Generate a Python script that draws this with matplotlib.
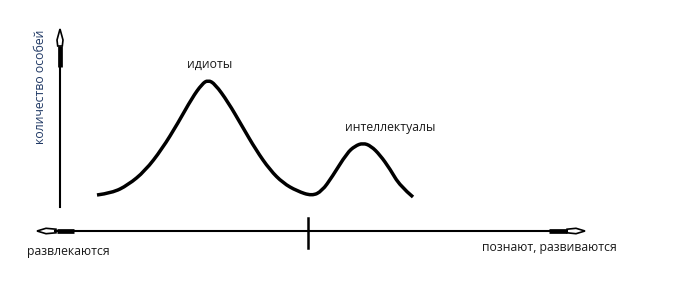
import matplotlib
matplotlib.use("Agg")
import matplotlib.pyplot as plt
from matplotlib.patches import Polygon, PathPatch
from matplotlib.path import Path

plt.rcParams['font.family'] = ['Open Sans', 'DejaVu Sans']

# Curve (x: position along axis, y: pixel height from top)
curve_x = [97, 112, 128, 145, 162, 178, 192, 202, 208, 215, 228, 242, 256,
           270, 283, 297, 312, 322, 332, 347, 355, 363, 371, 380, 390, 400, 413]
curve_y = [195, 193, 185, 171, 149, 123, 98, 84, 80, 84, 102, 126, 150,
           170, 183, 191, 196, 191, 177, 153, 146, 143, 146, 155, 169, 186, 197]

peak_labels = ["идиоты", "интеллектуалы"]
peak_label_x = [210, 390]
peak_label_y = [64, 128]

y_label = "количество особей"
left_label = "развлекаются"
right_label = "познают, развиваются"

fig = plt.figure(figsize=(7.0, 2.95), dpi=100)
ax = fig.add_axes([0, 0, 1, 1])
ax.set_xlim(0, 700)
ax.set_ylim(295, 0)
ax.axis('off')

# smooth curve: quadratic Bezier path using the read points as control points
pts = list(zip(curve_x, curve_y))
verts = [pts[0]]
codes = [Path.MOVETO]
for i in range(1, len(pts) - 1):
    mid = ((pts[i][0] + pts[i + 1][0]) / 2, (pts[i][1] + pts[i + 1][1]) / 2)
    if i == len(pts) - 2:
        mid = pts[-1]
    verts += [pts[i], mid]
    codes += [Path.CURVE3, Path.CURVE3]
ax.add_patch(PathPatch(Path(verts, codes), fc='none', ec='black', lw=2.5,
                       capstyle='butt', joinstyle='round'))

# vertical axis
ax.plot([60, 60], [207, 48], color='black', lw=1.5)
ax.plot([60, 60], [67, 46], color='black', lw=3.4, solid_capstyle='butt')
ax.add_patch(Polygon([[60, 29], [63, 40], [62.3, 46], [57.7, 46], [57, 40]],
                     closed=True, fc='white', ec='black', lw=1.2))

# horizontal axis
ax.plot([55, 567], [231, 231], color='black', lw=1.5)
ax.plot([57, 74], [231, 231], color='black', lw=3.4, solid_capstyle='butt')
ax.plot([549, 567], [231, 231], color='black', lw=3.4, solid_capstyle='butt')
ax.add_patch(Polygon([[37, 231], [46, 228.3], [56, 229.2], [56, 232.8], [46, 233.7]],
                     closed=True, fc='white', ec='black', lw=1.2))
ax.add_patch(Polygon([[585, 231], [576, 228.3], [567, 229.2], [567, 232.8], [576, 233.7]],
                     closed=True, fc='white', ec='black', lw=1.2))

# middle tick
ax.plot([308, 308], [218, 248], color='black', lw=1.8)

fs = 8.8
for lab, x, y in zip(peak_labels, peak_label_x, peak_label_y):
    ax.text(x, y, lab, ha='center', va='center', fontsize=fs, color='#1a1a1a')

ax.text(40, 87, y_label, rotation=90, ha='center', va='center',
        fontsize=fs, color='#1f3864')
ax.text(27, 251, left_label, ha='left', va='center', fontsize=fs, color='#1a1a1a')
ax.text(482, 248, right_label, ha='left', va='center', fontsize=fs, color='#1a1a1a')

fig.savefig('out.png', dpi=100)
